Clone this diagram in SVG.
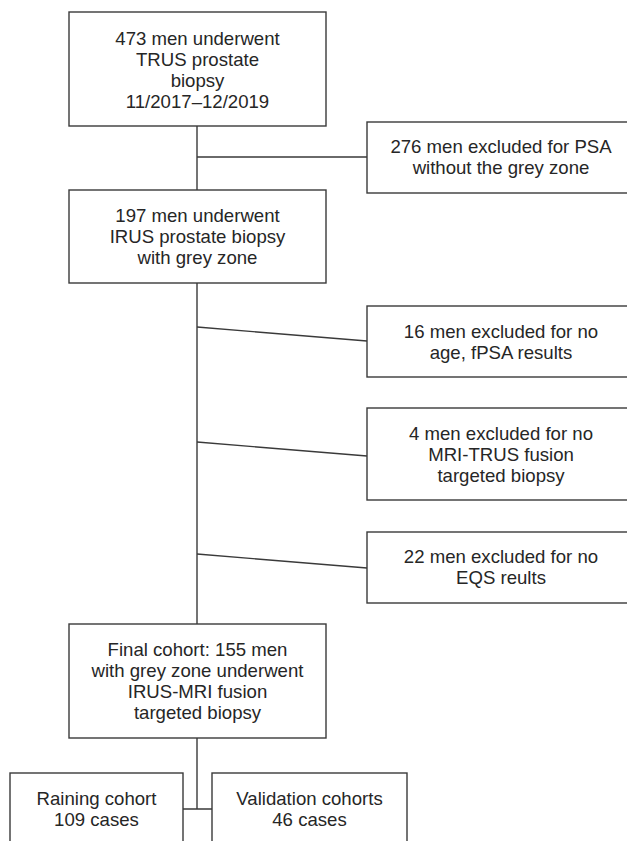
<svg xmlns="http://www.w3.org/2000/svg" width="627" height="841" viewBox="0 0 627 841">
<style>
.box{fill:#fff;stroke:#3a3a3a;stroke-width:1.4}
.ln{fill:none;stroke:#3a3a3a;stroke-width:1.4}
text{font-family:"Liberation Sans",Arial,sans-serif;font-size:18.6px;fill:#262626;text-anchor:middle}
</style>
<rect width="627" height="841" fill="#fff"/>
<g id="connectors">
<path class="ln" d="M197 126V190M197 157H367M197 283V624M197 738V809M183 809H212"/>
<path class="ln" d="M197 327L367 341M197 442L367 456M197 554L367 568"/>
</g>
<g id="n1"><rect class="box" x="69" y="12" width="257" height="114"/>
<text x="197.5" y="45">473 men underwent</text><text x="197.5" y="66">TRUS prostate</text><text x="197.5" y="87">biopsy</text><text x="197.5" y="108">11/2017–12/2019</text></g>
<g id="n2"><rect class="box" x="367" y="122" width="268" height="71"/>
<text x="501" y="153">276 men excluded for PSA</text><text x="501" y="174">without the grey zone</text></g>
<g id="n3"><rect class="box" x="69" y="190" width="257" height="93"/>
<text x="197.5" y="222">197 men underwent</text><text x="197.5" y="243">IRUS prostate biopsy</text><text x="197.5" y="264">with grey zone</text></g>
<g id="n4"><rect class="box" x="367" y="306" width="268" height="71"/>
<text x="501" y="338">16 men excluded for no</text><text x="501" y="359">age, fPSA results</text></g>
<g id="n5"><rect class="box" x="367" y="408" width="268" height="92"/>
<text x="501" y="440">4 men excluded for no</text><text x="501" y="461">MRI-TRUS fusion</text><text x="501" y="482">targeted biopsy</text></g>
<g id="n6"><rect class="box" x="367" y="532" width="268" height="71"/>
<text x="501" y="563">22 men excluded for no</text><text x="501" y="584">EQS reults</text></g>
<g id="n7"><rect class="box" x="69" y="624" width="257" height="114"/>
<text x="197.5" y="656">Final cohort: 155 men</text><text x="197.5" y="677">with grey zone underwent</text><text x="197.5" y="698">IRUS-MRI fusion</text><text x="197.5" y="719">targeted biopsy</text></g>
<g id="n8"><rect class="box" x="10" y="773" width="173" height="80"/>
<text x="96.5" y="805">Raining cohort</text><text x="96.5" y="826">109 cases</text></g>
<g id="n9"><rect class="box" x="212" y="773" width="195" height="80"/>
<text x="309.5" y="805">Validation cohorts</text><text x="309.5" y="826">46 cases</text></g>
</svg>
